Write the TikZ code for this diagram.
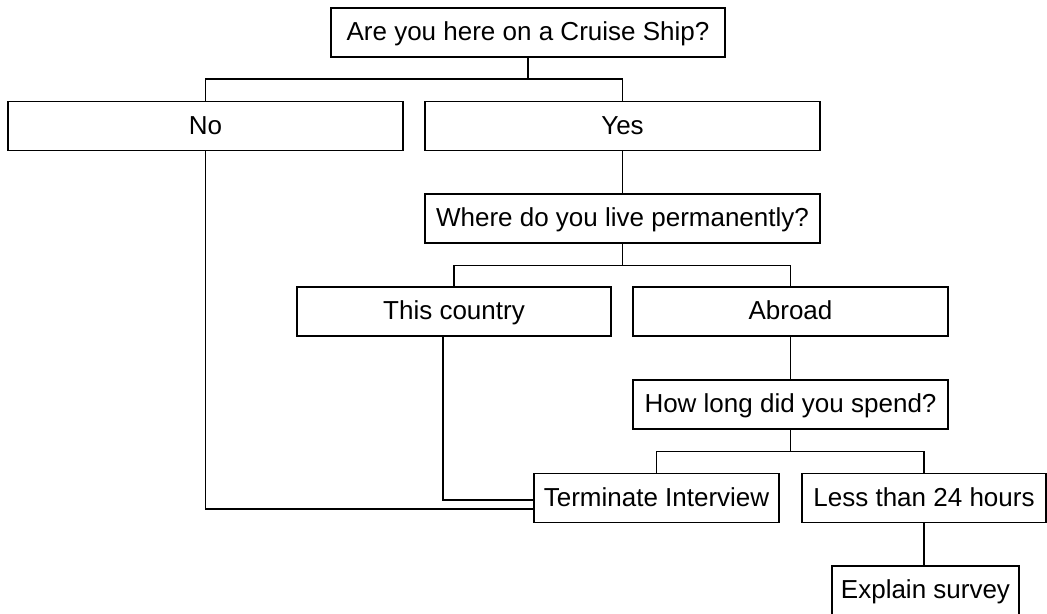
\documentclass[tikz,border=0pt]{standalone}
\usepackage{fontspec}
\setmainfont{Liberation Sans}
\begin{document}
\begin{tikzpicture}[x=0.75pt,y=-0.75pt,
  bx/.style={draw,line width=0.8pt,inner sep=0pt,minimum width=#1*0.75pt,minimum height=49*0.75pt,
    text height=16pt,text depth=4pt,
    font=\fontsize{19.5}{23}\selectfont},
  ln/.style={line width=0.8pt}]
\useasboundingbox (0,0) rectangle (1047,614);
\node[bx=394] (q1) at (528,32.5) {Are you here on a Cruise Ship?};
\node[bx=395] (no) at (205.5,126) {No};
\node[bx=395] (yes) at (622.5,126) {Yes};
\node[bx=395] (where) at (622.5,218.5) {Where do you live permanently?};
\node[bx=314] (this) at (454,311.5) {This country};
\node[bx=315] (abroad) at (790.5,311.5) {Abroad};
\node[bx=315] (how) at (790.5,404.5) {How long did you spend?};
\node[bx=245] (term) at (656.5,498) {Terminate Interview};
\node[bx=244] (less) at (924,498) {Less than 24 hours};
\node[bx=187] (explain) at (925.5,590.5) {Explain survey};
\coordinate (j1) at (528,79);
\coordinate (j2) at (622.5,265.7);
\coordinate (j3) at (790.5,451.3);
\draw[ln] (q1.south) -- (j1);
\draw[ln] (no.north) |- (j1) -| (yes.north);
\draw[ln] (yes.south) -- (where.north);
\draw[ln] (where.south) -- (j2);
\draw[ln] (this.north) |- (j2) -| (abroad.north);
\draw[ln] ([xshift=-8.25pt]this.south) |- ([yshift=-1.5pt]term.west);
\draw[ln] (no.south) |- ([yshift=-8.25pt]term.west);
\draw[ln] (abroad.south) -- (how.north);
\draw[ln] (how.south) -- (j3);
\draw[ln] (term.north) |- (j3) -| (less.north);
\draw[ln] (less.south) -- (less.south |- explain.north);
\end{tikzpicture}
\end{document}
